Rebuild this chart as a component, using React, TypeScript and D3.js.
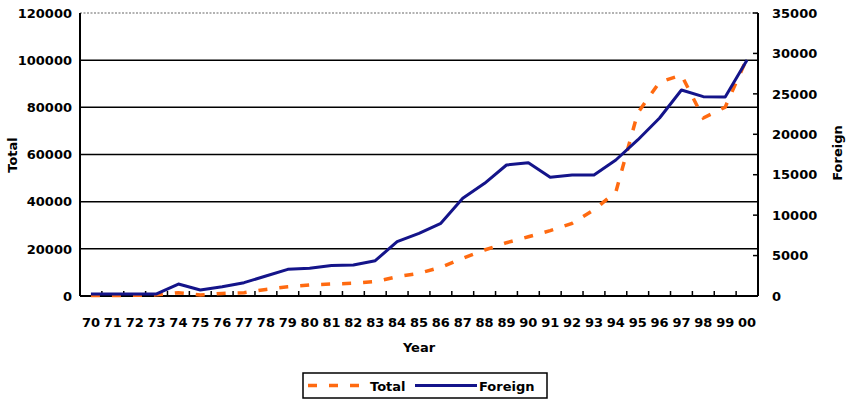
import React from "react";
import * as d3 from "d3";

const years = ["70","71","72","73","74","75","76","77","78","79","80","81","82","83","84","85","86","87","88","89","90","91","92","93","94","95","96","97","98","99","00"];
const totalValues = [200,200,300,500,1400,400,1100,1400,2800,3900,4700,5100,5400,6100,8200,9600,12200,16000,19500,22600,25100,27700,30800,36500,44100,77600,90700,93700,75500,80100,100900];
const foreignValues = [250,250,250,250,1480,740,1150,1650,2470,3300,3420,3770,3830,4370,6720,7750,8990,12080,13940,16200,16490,14680,14970,14970,16820,19300,22020,25480,24650,24620,29190];
const leftTicks = [0,20000,40000,60000,80000,100000,120000];
const rightTicks = [0,5000,10000,15000,20000,25000,30000,35000];

const W = 846, H = 402;
const M = { left: 80, right: 758, top: 13, bottom: 296 };
const FONT = "'DejaVu Sans', Verdana, sans-serif";
const ORANGE = "#ff6a10";
const NAVY = "#14148a";

export default function App() {
  const x = d3.scaleBand<string>().domain(years).range([M.left, M.right]).padding(0);
  const yL = d3.scaleLinear().domain([0, 120000]).range([M.bottom, M.top]);
  const yR = d3.scaleLinear().domain([0, 35000]).range([M.bottom, M.top]);
  const cx = (d: string) => (x(d) as number) + x.bandwidth() / 2;

  const lineTotal = d3.line<number>().x((_, i) => cx(years[i])).y((d) => yL(d));
  const lineForeign = d3.line<number>().x((_, i) => cx(years[i])).y((d) => yR(d));
  const boundaries = d3.range(years.length + 1).map((k) => M.left + k * x.bandwidth());

  return (
    <svg width={W} height={H} style={{ position: "absolute", left: 0, top: 0, background: "#fff" }} fontFamily={FONT}>
      {/* top border dotted */}
      <line x1={M.left} x2={M.right} y1={M.top} y2={M.top} stroke="#999" strokeWidth={1.5} strokeDasharray="2,1.5" />
      {/* gridlines */}
      {leftTicks.filter((t) => t > 0 && t < 120000).map((t) => (
        <line key={t} x1={M.left} x2={M.right} y1={yL(t)} y2={yL(t)} stroke="#000" strokeWidth={1.5} />
      ))}
      {/* axes */}
      <line x1={M.left} x2={M.left} y1={M.top} y2={M.bottom} stroke="#000" strokeWidth={2} />
      <line x1={M.right} x2={M.right} y1={M.top} y2={M.bottom} stroke="#000" strokeWidth={2} />
      <line x1={M.left} x2={M.right} y1={M.bottom} y2={M.bottom} stroke="#000" strokeWidth={2} />
      {boundaries.map((bx, k) => (
        <line key={k} x1={bx} x2={bx} y1={M.bottom - 5} y2={M.bottom} stroke="#000" strokeWidth={1.5} />
      ))}
      {rightTicks.map((t) => (
        <line key={t} x1={M.right - 5} x2={M.right} y1={yR(t)} y2={yR(t)} stroke="#000" strokeWidth={1.5} />
      ))}
      {/* left tick labels */}
      {leftTicks.map((t) => (
        <text key={t} x={72} y={yL(t)} dy="0.36em" textAnchor="end" fontSize={13} fontWeight="bold">{t}</text>
      ))}
      {/* right tick labels */}
      {rightTicks.map((t) => (
        <text key={t} x={772} y={yR(t)} dy="0.36em" textAnchor="start" fontSize={13} fontWeight="bold">{t}</text>
      ))}
      {/* x labels */}
      {years.map((y) => (
        <text key={y} x={cx(y)} y={327} textAnchor="middle" fontSize={13} fontWeight="bold">{y}</text>
      ))}
      {/* axis titles */}
      <text x={(M.left + M.right) / 2} y={352} textAnchor="middle" fontSize={13} fontWeight="bold">Year</text>
      <text transform="translate(17,155) rotate(-90)" textAnchor="middle" fontSize={13} fontWeight="bold">Total</text>
      <text transform="translate(842,153) rotate(-90)" textAnchor="middle" fontSize={13} fontWeight="bold">Foreign</text>
      {/* series */}
      <path d={lineTotal(totalValues) || ""} fill="none" stroke={ORANGE} strokeWidth={3.5} strokeDasharray="9,12" />
      <path d={lineForeign(foreignValues) || ""} fill="none" stroke={NAVY} strokeWidth={3} strokeLinejoin="round" />
      {/* legend */}
      <rect x={303} y={373} width={244} height={25} fill="#fff" stroke="#000" strokeWidth={1.5} />
      <line x1={308} x2={364} y1={385.5} y2={385.5} stroke={ORANGE} strokeWidth={3.5} strokeDasharray="9,12" />
      <text x={370} y={391} fontSize={13} fontWeight="bold">Total</text>
      <line x1={415} x2={477} y1={385.5} y2={385.5} stroke={NAVY} strokeWidth={3} />
      <text x={479} y={391} fontSize={13} fontWeight="bold">Foreign</text>
    </svg>
  );
}
